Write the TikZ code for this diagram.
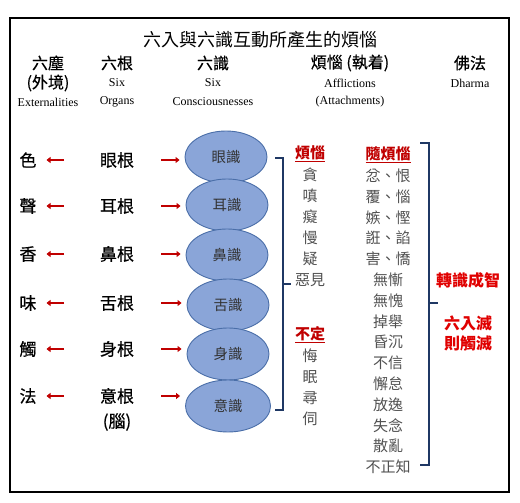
\documentclass[tikz,border=0pt]{standalone}
\usepackage{fontspec}
\setmainfont{Liberation Serif}
\newfontfamily\cjk{Noto Sans CJK TC}
\newfontfamily\cjkm{Noto Sans CJK TC}[FakeBold=0.5]
\usetikzlibrary{shapes.geometric,arrows.meta}
\definecolor{sensefill}{HTML}{8AA5D8}
\definecolor{senseline}{HTML}{4A6EA8}
\definecolor{darkred}{HTML}{C00000}
\definecolor{brightred}{HTML}{E00000}
\definecolor{bracketcol}{HTML}{1F3864}
\definecolor{itemgray}{HTML}{505050}
\tikzset{
  txt/.style={inner sep=0pt, outer sep=0pt},
  titletxt/.style={txt, font=\cjk\fontsize{18}{20}\selectfont},
  headcjk/.style={txt, font=\cjkm\fontsize{16}{18}\selectfont},
  headen/.style={txt, font=\fontsize{12}{13}\selectfont},
  maintxt/.style={txt, font=\cjkm\fontsize{17}{19}\selectfont},
  sense/.style={ellipse, draw=senseline, line width=0.9pt, fill=sensefill, minimum width=82pt, minimum height=52pt, inner sep=0pt, font=\cjk\fontsize{14.5}{16}\selectfont, text=black!80},
  item/.style={txt, font=\cjk\fontsize{15}{17}\selectfont, text=itemgray},
  redhead/.style={txt, font=\cjk\bfseries\fontsize{15}{17}\selectfont, text=darkred},
  redlabel/.style={txt, font=\cjk\bfseries\fontsize{16}{18}\selectfont, text=brightred},
  redarrow/.style={draw=darkred, line width=2.2pt, -{Triangle[length=4pt,width=6pt]}},
  bracket/.style={draw=bracketcol, line width=1.1pt},
}
\begin{document}
\begin{tikzpicture}[x=1pt,y=-1pt]
\useasboundingbox (0,0) rectangle (520,503);
\draw[line width=2pt] (10,18) rectangle (509,492);
% title
\node[titletxt] (title) at (260,40) {六入與六識互動所產生的煩惱};
% headers
\node[headcjk] (h1a) at (48,63) {六塵};
\node[headcjk] (h1b) at (48,83) {(外境)};
\node[headen] (h1c) at (48,102) {Externalities};
\node[headcjk] (h2a) at (117,63) {六根};
\node[headen] (h2b) at (117,83) {Six};
\node[headen] (h2c) at (117,102) {Organs};
\node[headcjk] (h3a) at (213,63) {六識};
\node[headen] (h3b) at (213,83) {Six};
\node[headen] (h3c) at (213,102) {Consciousnesses};
\node[headcjk] (h4a) at (350,63) {煩惱 (執着)};
\node[headen] (h4b) at (350,83) {Afflictions};
\node[headen] (h4c) at (350,102) {(Attachments)};
\node[headcjk] (h5a) at (470,63) {佛法};
\node[headen] (h5b) at (470,83) {Dharma};
% six dusts
\node[maintxt] (d1) at (28,160) {色};
\node[maintxt] (d2) at (28,206) {聲};
\node[maintxt] (d3) at (28,254) {香};
\node[maintxt] (d4) at (28,303) {味};
\node[maintxt] (d5) at (28,349) {觸};
\node[maintxt] (d6) at (28,396) {法};
% six organs
\node[maintxt] (o1) at (117,160) {眼根};
\node[maintxt] (o2) at (117,206) {耳根};
\node[maintxt] (o3) at (117,254) {鼻根};
\node[maintxt] (o4) at (117,303) {舌根};
\node[maintxt] (o5) at (117,349) {身根};
\node[maintxt] (o6) at (117,396) {意根};
\node[maintxt] (o6b) at (117,422) {(腦)};
% six consciousnesses
\node[sense] (s1) at (226,157) {眼識};
\node[sense] (s2) at (227,205) {耳識};
\node[sense] (s3) at (227,255) {鼻識};
\node[sense] (s4) at (228,305) {舌識};
\node[sense] (s5) at (228,354) {身識};
\node[sense, minimum width=85pt] (s6) at (228,406) {意識};
% arrows
\foreach \i in {1,...,6}{
  \draw[redarrow, shorten <=36pt, shorten >=10pt] (o\i.west) -- (d\i.east |- o\i.west);
  \draw[redarrow, shorten <=27pt, shorten >=5pt] (o\i.east) -- (s\i.west |- o\i.east);
}
% afflictions column 1
\node[redhead] (a0) at (310,154) {\underline{煩惱}};
\node[item] (a1) at (310,175) {貪};
\node[item] (a2) at (310,196) {嗔};
\node[item] (a3) at (310,217) {癡};
\node[item] (a4) at (310,238) {慢};
\node[item] (a5) at (310,259) {疑};
\node[item] (a6) at (310,280) {惡見};
\node[redhead] (b0) at (310,335) {\underline{不定}};
\node[item] (b1) at (310,356) {悔};
\node[item] (b2) at (310,377) {眠};
\node[item] (b3) at (310,398) {尋};
\node[item] (b4) at (310,419) {伺};
% afflictions column 2
\node[redhead] (c0) at (388,155) {\underline{隨煩惱}};
\node[item] (c1) at (388,175.8) {忿、恨};
\node[item] (c2) at (388,196.6) {覆、惱};
\node[item] (c3) at (388,217.4) {嫉、慳};
\node[item] (c4) at (388,238.2) {誑、諂};
\node[item] (c5) at (388,259) {害、憍};
\node[item] (c6) at (388,279.8) {無慚};
\node[item] (c7) at (388,300.6) {無愧};
\node[item] (c8) at (388,321.4) {掉舉};
\node[item] (c9) at (388,342.2) {昏沉};
\node[item] (c10) at (388,363) {不信};
\node[item] (c11) at (388,383.8) {懈怠};
\node[item] (c12) at (388,404.6) {放逸};
\node[item] (c13) at (388,425.4) {失念};
\node[item] (c14) at (388,446.2) {散亂};
\node[item] (c15) at (388,467) {不正知};
% brackets
\coordinate (k1a) at (275,158);
\coordinate (k1b) at (283,158);
\coordinate (k1c) at (283,410);
\coordinate (k1d) at (275,410);
\coordinate (k1m) at (283,284);
\coordinate (k1n) at (291,284);
\draw[bracket] (k1a) -- (k1b) -- (k1c) -- (k1d);
\draw[bracket] (k1m) -- (k1n);
\coordinate (k2a) at (420,143);
\coordinate (k2b) at (429,143);
\coordinate (k2c) at (429,465);
\coordinate (k2d) at (420,465);
\coordinate (k2m) at (429,303);
\coordinate (k2n) at (438,303);
\draw[bracket] (k2a) -- (k2b) -- (k2c) -- (k2d);
\draw[bracket] (k2m) -- (k2n);
% dharma labels
\node[redlabel] (r1) at (468,280) {轉識成智};
\node[redlabel] (r2) at (468,323) {六入滅};
\node[redlabel] (r3) at (468,343) {則觸滅};
\end{tikzpicture}
\end{document}
